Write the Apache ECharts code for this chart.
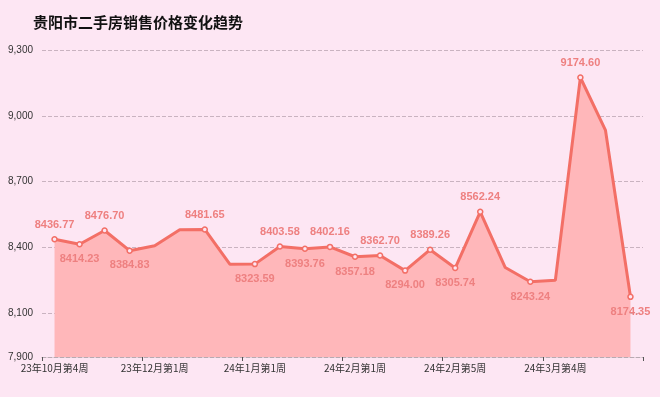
<!DOCTYPE html>
<html>
<head>
<meta charset="utf-8">
<script src="https://cdn.jsdelivr.net/npm/echarts@6/dist/echarts.min.js"></script>
<style>
html, body { margin: 0; padding: 0; background: #fde6f3; }
#main { width: 660px; height: 397px; }
</style>
</head>
<body>
<div id="main"></div>
<script>
var weeks = [
	'23年10月第4周', '23年11月第1周', '23年11月第2周', '23年11月第3周',
	'23年12月第1周', '23年12月第2周', '23年12月第3周', '23年12月第4周',
	'24年1月第1周', '24年1月第2周', '24年1月第3周', '24年1月第4周',
	'24年2月第1周', '24年2月第2周', '24年2月第3周', '24年2月第4周',
	'24年2月第5周', '24年3月第1周', '24年3月第2周', '24年3月第3周',
	'24年3月第4周', '24年4月第1周', '24年4月第2周', '24年4月第3周'
];
var prices = [
	8436.77, 8414.23, 8476.70, 8384.83, 8407, 8480, 8481.65, 8323,
	8323.59, 8403.58, 8393.76, 8402.16, 8357.18, 8362.70, 8294.00, 8389.26,
	8305.74, 8562.24, 8308, 8243.24, 8250, 9174.60, 8935, 8174.35
];
// 't' = label above, 'b' = label below, '' = no label / no dot
var labelPos = [
	't', 'b', 't', 'b', '', '', 't', '',
	'b', 't', 'b', 't', 'b', 't', 'b', 't',
	'b', 't', '', 'b', '', 't', '', 'b'
];

var myChart = echarts.init(document.getElementById('main'));

var seriesData = [];
for (var i = 0; i < prices.length; i++) {
	var p = labelPos[i];
	if (p === '') {
		seriesData.push({ value: prices[i], symbol: 'none', label: { show: false } });
	} else {
		seriesData.push({
			value: prices[i],
			label: { show: true, position: p === 't' ? 'top' : 'bottom' }
		});
	}
}

option = {
	backgroundColor: '#fde6f3',
	title: {
		text: '贵阳市二手房销售价格变化趋势',
		left: 28,
		top: 10,
		textStyle: {
			fontSize: 15,
			fontWeight: 'bold',
			color: '#111',
			fontFamily: 'Noto Sans CJK SC'
		}
	},
	grid: {
		left: 42,
		right: 17,
		top: 50,
		bottom: 40
	},
	xAxis: {
		type: 'category',
		data: weeks,
		boundaryGap: true,
		axisLine: { show: true, lineStyle: { color: '#b8aab2', type: 'dashed' } },
		axisTick: { show: true, interval: 3, length: 4, lineStyle: { color: '#555' } },
		axisLabel: {
			interval: 3,
			color: '#333',
			fontSize: 10,
			margin: 6,
			fontFamily: 'Noto Sans CJK SC'
		}
	},
	yAxis: {
		type: 'value',
		min: 7900,
		max: 9300,
		splitNumber: 5,
		axisLine: { show: false },
		axisTick: { show: false },
		axisLabel: { color: '#333', fontSize: 10, margin: 9 },
		splitLine: { lineStyle: { color: '#c9b3c0', type: 'dashed' } }
	},
	series: [
		{
			type: 'line',
			data: seriesData,
			symbol: 'circle',
			symbolSize: 5,
			itemStyle: { color: '#fde6f3', borderColor: '#f36f66', borderWidth: 1.5 },
			lineStyle: { color: '#f36f66', width: 3 },
			areaStyle: { color: '#ffb7ba', opacity: 1 },
			label: {
				color: '#ee8080',
				fontSize: 11,
				fontWeight: 'bold',
				distance: 6,
				formatter: function(p) { return p.value.toFixed(2); }
			}
		}
	]
};
myChart.setOption(option);
</script>
</body>
</html>
